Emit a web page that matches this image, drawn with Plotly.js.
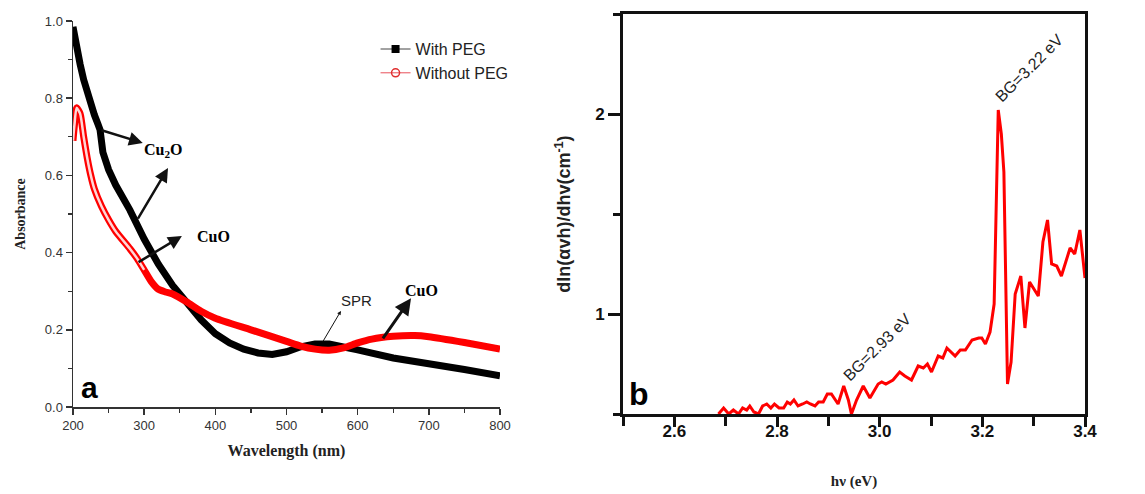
<!DOCTYPE html>
<html>
<head>
<meta charset="utf-8">
<script src="https://cdn.plot.ly/plotly-3.0.1.min.js"></script>
<style>html,body{margin:0;padding:0;background:#fff;}#chart{width:1145px;height:494px;}</style>
</head>
<body>
<div id="chart"></div>
<script>
// Panel (a): UV-Vis absorbance
const wlWithPEG = [200,205,210,215,220,225,230,235,238,242,250,260,280,300,320,340,360,380,400,420,440,460,480,500,520,540,560,580,600,650,700,750,800];
const absWithPEG = [0.985,0.93,0.888,0.848,0.812,0.782,0.757,0.733,0.718,0.66,0.615,0.575,0.51,0.435,0.37,0.315,0.268,0.226,0.19,0.166,0.15,0.14,0.136,0.143,0.156,0.163,0.163,0.157,0.148,0.127,0.11,0.097,0.081];
const wlWithoutPEG = [200,202,205,210,215,220,225,230,240,250,260,280,290,300,310,320,330,340,360,380,400,450,500,520,540,560,580,600,620,650,680,700,750,800];
const absWithoutPEG = [0.69,0.73,0.775,0.76,0.70,0.645,0.60,0.565,0.52,0.485,0.455,0.41,0.385,0.355,0.325,0.305,0.298,0.293,0.272,0.248,0.23,0.2,0.17,0.158,0.15,0.147,0.153,0.166,0.176,0.183,0.185,0.182,0.167,0.15];
const hollowUntil = 300; // open-circle section of the "Without PEG" curve

// Panel (b): derivative plot
const hv = [2.686,2.696,2.706,2.715,2.725,2.733,2.741,2.747,2.755,2.764,2.772,2.780,2.788,2.795,2.804,2.813,2.820,2.826,2.833,2.841,2.850,2.858,2.865,2.874,2.881,2.890,2.898,2.906,2.919,2.930,2.939,2.945,2.955,2.968,2.981,2.997,3.004,3.012,3.026,3.039,3.049,3.062,3.075,3.085,3.093,3.101,3.114,3.123,3.131,3.147,3.157,3.167,3.180,3.193,3.199,3.206,3.215,3.223,3.231,3.237,3.242,3.249,3.256,3.264,3.275,3.283,3.292,3.309,3.318,3.327,3.335,3.345,3.354,3.371,3.380,3.390,3.400];
const dlnVals = [0.50,0.53,0.50,0.52,0.50,0.53,0.52,0.54,0.51,0.50,0.54,0.55,0.53,0.55,0.53,0.53,0.56,0.55,0.57,0.54,0.55,0.56,0.55,0.54,0.56,0.56,0.60,0.60,0.55,0.64,0.57,0.50,0.57,0.64,0.58,0.65,0.66,0.65,0.67,0.71,0.69,0.67,0.74,0.73,0.75,0.71,0.79,0.78,0.83,0.79,0.82,0.82,0.87,0.88,0.88,0.85,0.91,1.05,2.02,1.90,1.71,0.65,0.76,1.10,1.19,0.93,1.16,1.09,1.36,1.47,1.25,1.24,1.19,1.33,1.30,1.42,1.18];

const seriesNames = ['With PEG','Without PEG'];
const xTitleA = 'Wavelength (nm)', yTitleA = 'Absorbance';
const xTitleB = 'hν (eV)', yTitleB = 'dln(αvh)/dhv(cm<sup>-1</sup>)';

const hx = [], hy = [];
wlWithoutPEG.forEach((w,i)=>{ if (w <= hollowUntil) { hx.push(w); hy.push(absWithoutPEG[i]); } });

const traces = [
  {x: wlWithPEG, y: absWithPEG, mode:'lines', line:{color:'#000', width:7}, showlegend:false, xaxis:'x', yaxis:'y'},
  {x: wlWithoutPEG, y: absWithoutPEG, mode:'lines', line:{color:'#ff0000', width:7, shape:'spline', smoothing:0.6}, showlegend:false, xaxis:'x', yaxis:'y'},
  {x: hx, y: hy, mode:'lines', line:{color:'#ffd6d6', width:2.5, shape:'spline', smoothing:0.6}, showlegend:false, xaxis:'x', yaxis:'y'},
  {x:[null], y:[null], name: seriesNames[0], mode:'lines+markers', line:{color:'#444', width:1}, marker:{symbol:'square', color:'#000', size:8}, xaxis:'x', yaxis:'y'},
  {x:[null], y:[null], name: seriesNames[1], mode:'lines+markers', line:{color:'#e8505a', width:1}, marker:{symbol:'circle-open', color:'#e03030', size:8, line:{width:1.5}}, xaxis:'x', yaxis:'y'},
  {x: hv, y: dlnVals, mode:'lines', line:{color:'#ff0000', width:3}, showlegend:false, xaxis:'x2', yaxis:'y2'}
];

const serifBold = {family:'Liberation Serif, Times New Roman, serif', weight:'bold', color:'#222'};
const arrowA = {showarrow:true, arrowhead:2, arrowsize:1.1, arrowwidth:2.5, arrowcolor:'#111', axref:'x', ayref:'y', xref:'x', yref:'y', text:''};

const layout = {
  width:1145, height:494,
  margin:{l:0, r:0, t:0, b:0},
  paper_bgcolor:'#fff', plot_bgcolor:'#fff',
  showlegend:true,
  legend:{x:0.328, y:0.935, xanchor:'left', yanchor:'top', bgcolor:'rgba(0,0,0,0)', font:{family:'Liberation Sans, Arial', size:16, color:'#222'}, itemwidth:30, tracegroupgap:0},
  xaxis:{domain:[73/1145, 500/1145], range:[200,800], showline:true, linecolor:'#333', linewidth:1.5, ticks:'outside', ticklen:6, tickwidth:1.5, tickcolor:'#333', dtick:100, tick0:200, showgrid:false, zeroline:false,
    minor:{ticks:'outside', ticklen:4, tickwidth:1.2, tickcolor:'#333', dtick:50, showgrid:false},
    tickfont:{family:'Liberation Sans, Arial', size:13, color:'#333'}, anchor:'y',
    title:{text:xTitleA, font:Object.assign({size:16}, serifBold), standoff:12}},
  yaxis:{domain:[1-407/494, 1-21/494], range:[0,1.0], showline:true, linecolor:'#333', linewidth:1.5, ticks:'outside', ticklen:6, tickwidth:1.5, tickcolor:'#333', dtick:0.2, tickformat:'.1f', showgrid:false, zeroline:false,
    minor:{ticks:'outside', ticklen:4, tickwidth:1.2, tickcolor:'#333', dtick:0.1, showgrid:false},
    tickfont:{family:'Liberation Sans, Arial', size:13, color:'#333'}, anchor:'x',
    title:{text:yTitleA, font:Object.assign({size:14}, serifBold), standoff:16}},
  xaxis2:{domain:[623/1145, 1085/1145], range:[2.5,3.4], showline:true, mirror:true, linecolor:'#111', linewidth:3, ticks:'outside', ticklen:10, tickwidth:3, tickcolor:'#111', dtick:0.2, tick0:2.6, tickformat:'.1f', showgrid:false, zeroline:false,
    minor:{ticks:'outside', ticklen:9, tickwidth:3, tickcolor:'#111', dtick:0.1, tick0:2.5, showgrid:false},
    ticklabelstandoff:-10,
    tickfont:{family:'Liberation Sans, Arial', size:17, weight:'bold', color:'#111'}, anchor:'y2',
    title:{text:xTitleB, font:Object.assign({size:15}, serifBold), standoff:36}},
  yaxis2:{domain:[1-414/494, 1-14/494], range:[0.5,2.5], showline:true, mirror:true, linecolor:'#111', linewidth:3, ticks:'outside', ticklen:12, tickwidth:3, tickcolor:'#111', dtick:1, tick0:0, showgrid:false, zeroline:false,
    minor:{ticks:'outside', ticklen:7, tickwidth:3, tickcolor:'#111', dtick:0.5, tick0:0.5, showgrid:false},
    tickfont:{family:'Liberation Sans, Arial', size:17, weight:'bold', color:'#111'}, anchor:'x2',
    title:{text:yTitleB, font:{family:'Liberation Sans, Arial', size:18, weight:'bold', color:'#222'}, standoff:20}},
  annotations:[
    Object.assign({}, arrowA, {x:298, y:0.684, ax:238, ay:0.718}),
    Object.assign({}, arrowA, {x:333.5, y:0.619, ax:290, ay:0.484}),
    Object.assign({}, arrowA, {x:353, y:0.443, ax:290, ay:0.373}),
    Object.assign({}, arrowA, {x:576.5, y:0.249, ax:550, ay:0.166, arrowwidth:1, arrowhead:2, arrowsize:0.8}),
    Object.assign({}, arrowA, {x:675, y:0.282, ax:634, ay:0.174, arrowwidth:3}),
    {xref:'x', yref:'y', x:326.5, y:0.664, text:'Cu<sub>2</sub>O', showarrow:false, font:Object.assign({size:16}, serifBold, {color:'#000'})},
    {xref:'x', yref:'y', x:398, y:0.443, text:'CuO', showarrow:false, font:Object.assign({size:16}, serifBold, {color:'#000'})},
    {xref:'x', yref:'y', x:689, y:0.303, text:'CuO', showarrow:false, font:Object.assign({size:16}, serifBold, {color:'#000'})},
    {xref:'x', yref:'y', x:599, y:0.275, text:'SPR', showarrow:false, font:{family:'Liberation Sans, Arial', size:15, color:'#222'}},
    {xref:'paper', yref:'paper', x:89/1145, y:1-387/494, xanchor:'center', yanchor:'middle', text:'a', showarrow:false, font:{family:'Liberation Sans, Arial', size:30, weight:'bold', color:'#000'}},
    {xref:'x2', yref:'y2', x:3.29, y:2.23, text:'BG=3.22 eV', textangle:-45, showarrow:false, font:{family:'Liberation Sans, Arial', size:16, color:'#222'}},
    {xref:'x2', yref:'y2', x:2.994, y:0.835, text:'BG=2.93 eV', textangle:-45, showarrow:false, font:{family:'Liberation Sans, Arial', size:16, color:'#222'}},
    {xref:'paper', yref:'paper', x:639/1145, y:1-394/494, xanchor:'center', yanchor:'middle', text:'b', showarrow:false, font:{family:'Liberation Sans, Arial', size:32, weight:'bold', color:'#000'}}
  ]
};

Plotly.newPlot('chart', traces, layout, {displayModeBar:false, staticPlot:true});
</script>
</body>
</html>
